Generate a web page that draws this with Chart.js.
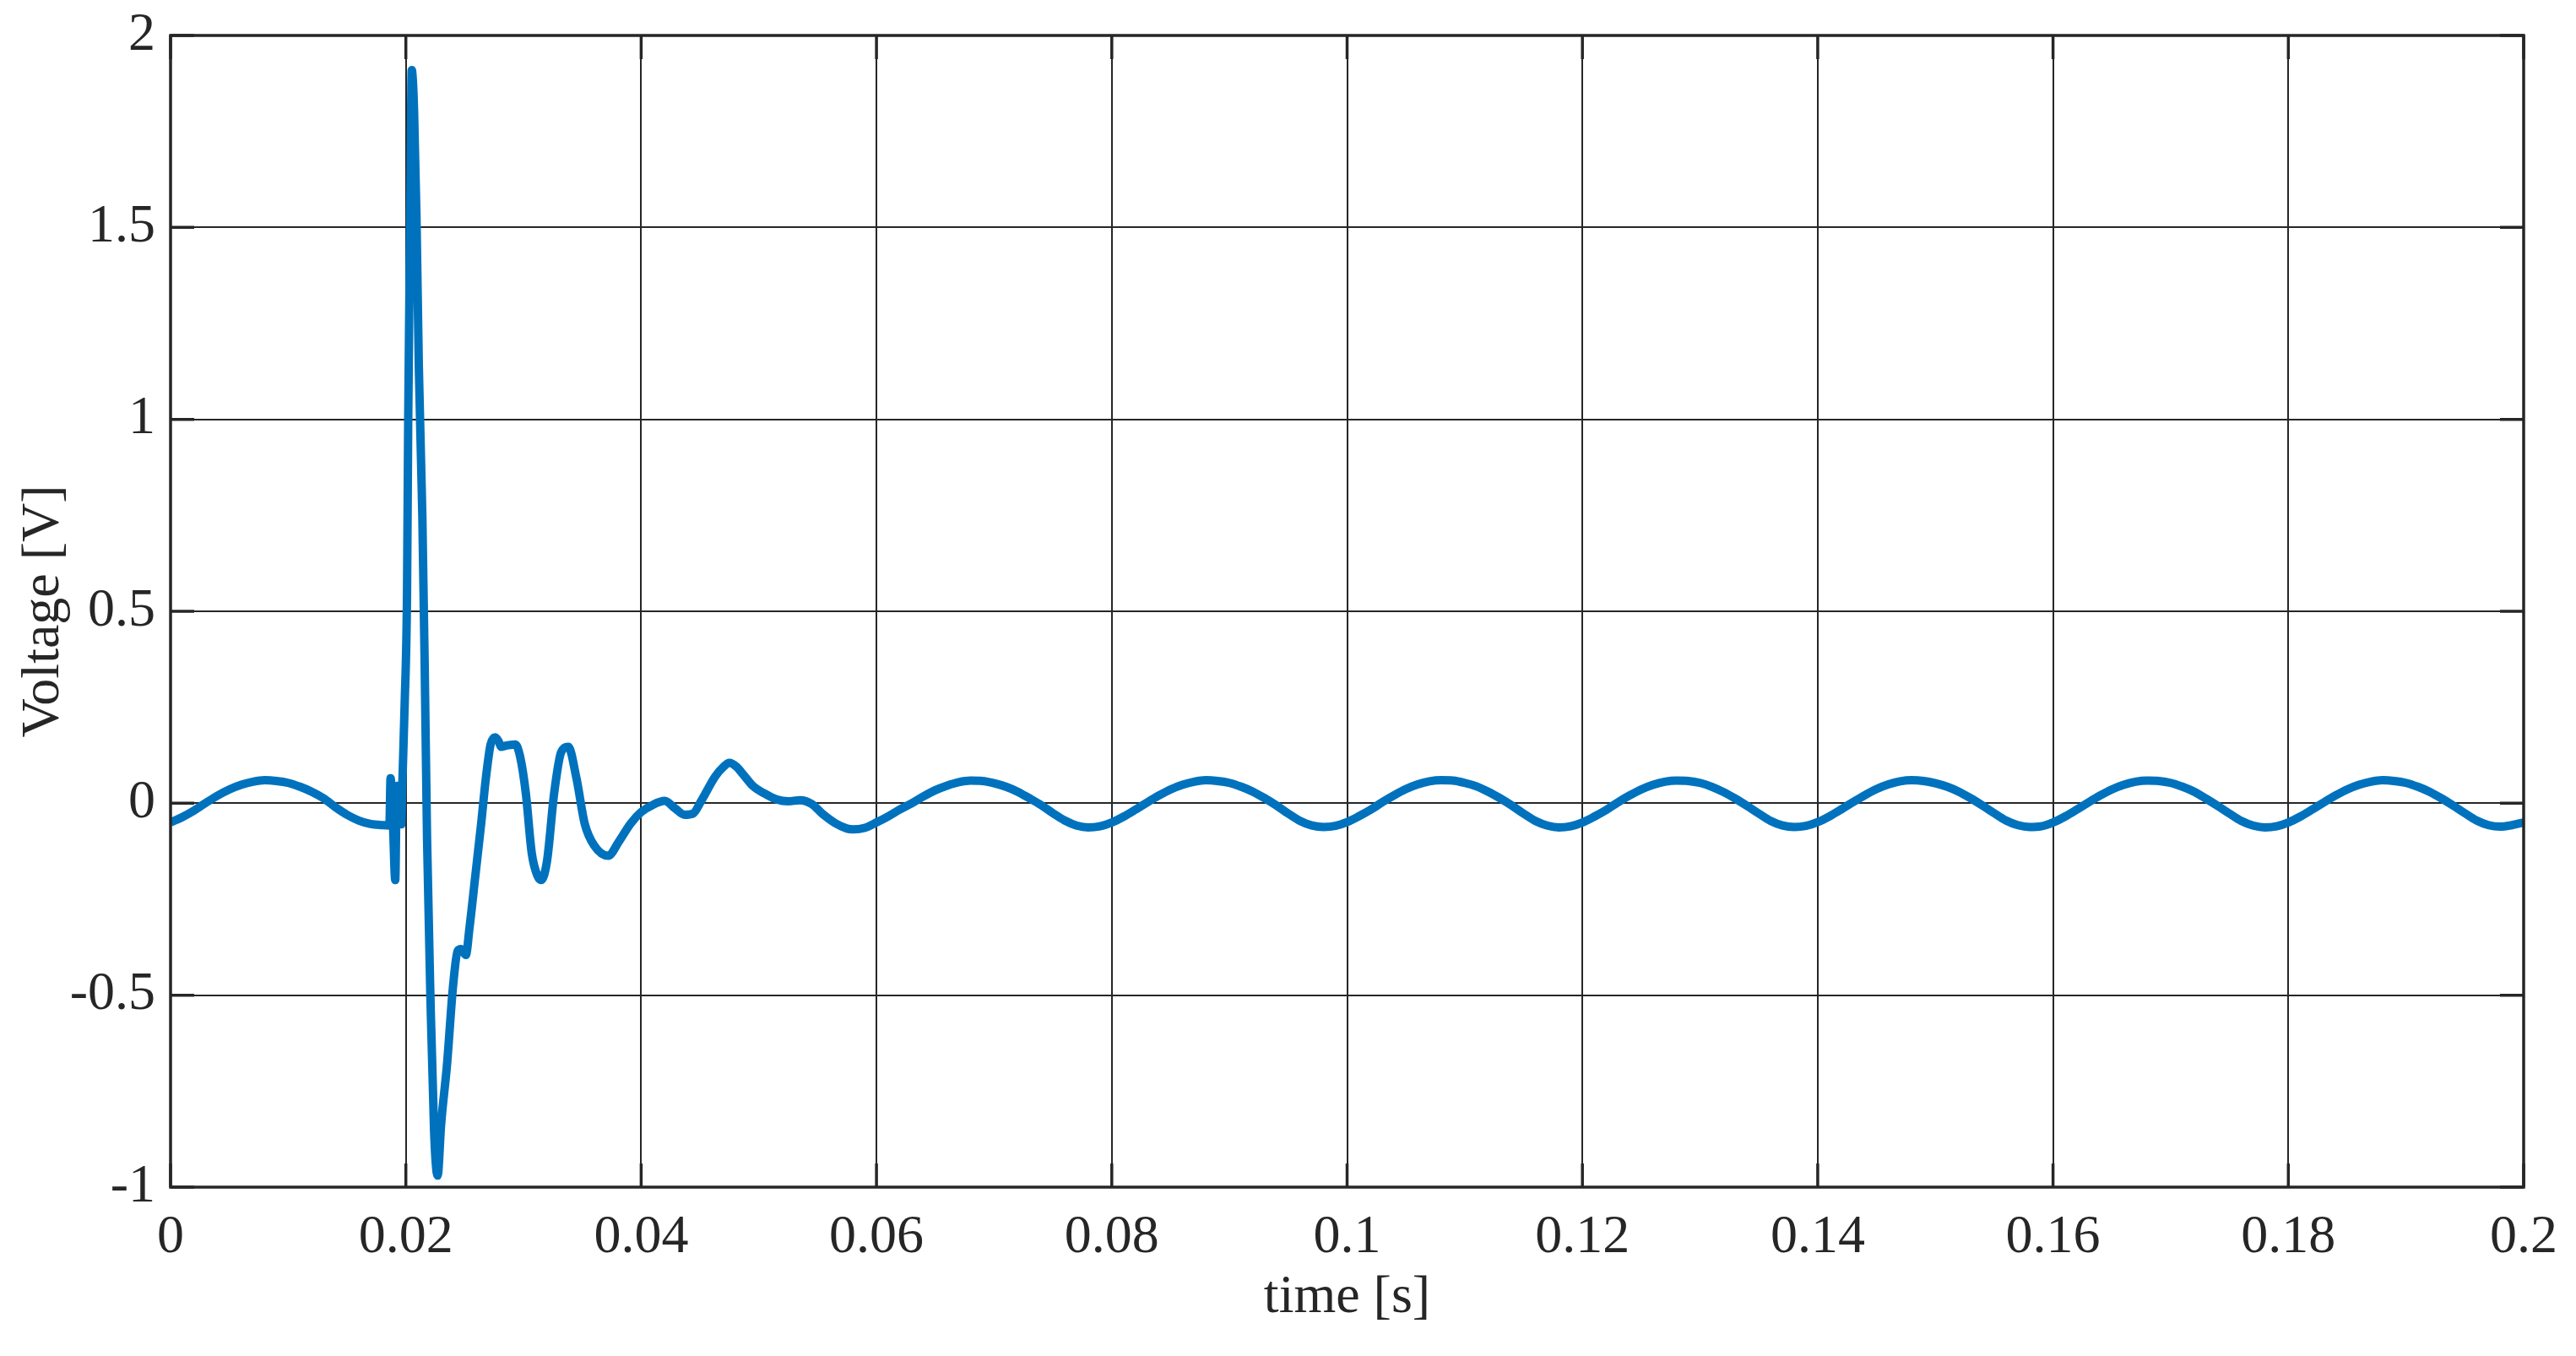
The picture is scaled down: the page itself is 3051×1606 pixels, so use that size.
<!DOCTYPE html>
<html>
<head>
<meta charset="utf-8">
<script src="https://cdn.jsdelivr.net/npm/chart.js@4.4.1/dist/chart.umd.min.js"></script>
<style>
  html, body { margin: 0; padding: 0; background: #fff; }
  #wrap { width: 3051px; height: 1606px; }
</style>
</head>
<body>
<div id="wrap"><canvas id="c"></canvas></div>
<script>
// ticks
const xTickValues = [0, 0.02, 0.04, 0.06, 0.08, 0.1, 0.12, 0.14, 0.16, 0.18, 0.2]
const xTickLabels = ['0', '0.02', '0.04', '0.06', '0.08', '0.1', '0.12', '0.14', '0.16', '0.18', '0.2']
const yTickValues = [-1, -0.5, 0, 0.5, 1, 1.5, 2]
const yTickLabels = ['-1', '-0.5', '0', '0.5', '1', '1.5', '2']

// before the fault, read every 1 ms
const preFaultT = [0, 0.001, 0.002, 0.003, 0.004, 0.005, 0.006, 0.007, 0.008, 0.009, 0.010,
  0.011, 0.012, 0.013, 0.014, 0.015, 0.016, 0.017, 0.018, 0.0186]
const preFaultV = [-0.050, -0.036, -0.019, 0.001, 0.020, 0.036, 0.048, 0.056, 0.060, 0.058, 0.053,
  0.043, 0.030, 0.013, -0.010, -0.030, -0.045, -0.054, -0.057, -0.058]

// fault transient, read at uneven steps
const faultT = [0.0187, 0.0189, 0.0191, 0.0192, 0.0193, 0.0195, 0.0196, 0.0197, 0.0199, 0.0201,
  0.0202, 0.0204, 0.0205, 0.0206, 0.0207, 0.0209, 0.0211, 0.0214, 0.0216, 0.0218,
  0.0221, 0.0224, 0.0227, 0.0230, 0.0235, 0.0240, 0.0244, 0.0247, 0.0251, 0.0254,
  0.0259, 0.0264, 0.0268, 0.0272, 0.0276, 0.0279, 0.0281, 0.0285, 0.0289, 0.0293,
  0.0297, 0.0302, 0.0307, 0.0312, 0.0315, 0.0320, 0.0326, 0.0332, 0.0338, 0.0345,
  0.0352, 0.0360, 0.0372, 0.0381, 0.0391, 0.0400, 0.0410, 0.0420, 0.0429, 0.0437,
  0.0444, 0.0451, 0.0463, 0.0470, 0.0475, 0.0481, 0.0487, 0.0495, 0.0505, 0.0515,
  0.0525, 0.0535, 0.0545, 0.0555, 0.0565, 0.0575]
const faultV = [0.065, -0.050, -0.200, 0.000, 0.045, -0.050, -0.055, 0.050, 0.260, 0.550,
  1.000, 1.630, 1.910, 1.880, 1.800, 1.530, 1.140, 0.750, 0.360, -0.090,
  -0.520, -0.855, -0.970, -0.835, -0.680, -0.480, -0.385, -0.380, -0.395, -0.327,
  -0.190, -0.053, 0.065, 0.153, 0.172, 0.160, 0.147, 0.150, 0.152, 0.153,
  0.123, 0.025, -0.130, -0.190, -0.200, -0.150, 0.025, 0.133, 0.147, 0.065,
  -0.053, -0.110, -0.137, -0.100, -0.053, -0.023, -0.004, 0.006, -0.014, -0.030,
  -0.027, 0.006, 0.070, 0.095, 0.105, 0.095, 0.074, 0.045, 0.025, 0.010,
  0.005, 0.008, -0.002, -0.030, -0.052, -0.066]

// steady state after the fault, read every 1 ms from 0.058 s
const steadyT0 = 0.058
const steadyStep = 0.001
const steadyV = [
  -0.068, -0.064, -0.050, -0.034, -0.016, 0.000, 0.018, 0.034, 0.046, 0.055,
  0.059, 0.058, 0.052, 0.043, 0.030, 0.013, -0.005, -0.026, -0.045, -0.058,
  -0.063, -0.060, -0.050, -0.035, -0.017, 0.002, 0.020, 0.036, 0.048, 0.056,
  0.060, 0.058, 0.053, 0.043, 0.030, 0.013, -0.006, -0.027, -0.046, -0.058,
  -0.062, -0.059, -0.049, -0.034, -0.017, 0.003, 0.021, 0.037, 0.049, 0.057,
  0.060, 0.059, 0.053, 0.044, 0.030, 0.013, -0.006, -0.027, -0.046, -0.058,
  -0.063, -0.060, -0.050, -0.035, -0.018, 0.002, 0.020, 0.036, 0.048, 0.056,
  0.059, 0.058, 0.053, 0.043, 0.029, 0.012, -0.007, -0.027, -0.046, -0.058,
  -0.062, -0.059, -0.049, -0.034, -0.016, 0.003, 0.021, 0.037, 0.049, 0.057,
  0.060, 0.058, 0.052, 0.043, 0.030, 0.013, -0.006, -0.026, -0.045, -0.057,
  -0.062, -0.060, -0.050, -0.035, -0.017, 0.002, 0.020, 0.036, 0.048, 0.056,
  0.059, 0.058, 0.053, 0.043, 0.030, 0.012, -0.007, -0.027, -0.046, -0.058,
  -0.063, -0.060, -0.050, -0.035, -0.017, 0.002, 0.020, 0.036, 0.048, 0.056,
  0.060, 0.058, 0.053, 0.043, 0.030, 0.013, -0.006, -0.026, -0.045, -0.057,
  -0.061, -0.057, -0.050
]

const points = []
preFaultT.forEach((t, i) => points.push({ x: t, y: preFaultV[i] }))
faultT.forEach((t, i) => points.push({ x: t, y: faultV[i] }))
steadyV.forEach((v, i) => points.push({ x: +(steadyT0 + i * steadyStep).toFixed(4), y: v }))

const ink = '#262626'
const font = { family: 'Liberation Serif', size: 64 }

// box round the plot with inward ticks, like the original
const framePlugin = {
  id: 'frame',
  afterDatasetsDraw (chart) {
    const { ctx, chartArea: a, scales } = chart
    const len = 28
    ctx.save()
    ctx.strokeStyle = ink
    ctx.lineWidth = 3.5
    ctx.beginPath()
    for (const v of xTickValues) {
      const px = scales.x.getPixelForValue(v)
      ctx.moveTo(px, a.bottom)
      ctx.lineTo(px, a.bottom - len)
      ctx.moveTo(px, a.top)
      ctx.lineTo(px, a.top + len)
    }
    for (const v of yTickValues) {
      const py = scales.y.getPixelForValue(v)
      ctx.moveTo(a.left, py)
      ctx.lineTo(a.left + len, py)
      ctx.moveTo(a.right, py)
      ctx.lineTo(a.right - len, py)
    }
    ctx.stroke()
    ctx.strokeRect(a.left, a.top, a.right - a.left, a.bottom - a.top)
    ctx.restore()
  }
}

new Chart(document.getElementById('c'), {
  type: 'line',
  data: {
    datasets: [{
      data: points,
      borderColor: '#0072BD',
      borderWidth: 10,
      pointRadius: 0,
      cubicInterpolationMode: 'monotone',
      fill: false
    }]
  },
  options: {
    responsive: true,
    maintainAspectRatio: false,
    animation: false,
    devicePixelRatio: 1,
    layout: { padding: { top: 42, right: 62, bottom: 0, left: 0 } },
    plugins: { legend: { display: false }, tooltip: { enabled: false } },
    scales: {
      x: {
        type: 'linear',
        min: 0,
        max: 0.2,
        afterBuildTicks (scale) { scale.ticks = xTickValues.map(v => ({ value: v })) },
        afterFit (scale) {
          scale.height = 200
          scale.paddingLeft = 0
          scale.paddingRight = 0
        },
        ticks: {
          color: ink,
          font,
          padding: 22,
          maxRotation: 0,
          callback: (value, index) => xTickLabels[index]
        },
        grid: { color: ink, lineWidth: 2, drawTicks: false },
        border: { display: false },
        title: { display: true, text: 'time [s]', color: ink, font, padding: { top: 0, bottom: 30 } }
      },
      y: {
        type: 'linear',
        min: -1,
        max: 2,
        afterBuildTicks (scale) { scale.ticks = yTickValues.map(v => ({ value: v })) },
        afterFit (scale) {
          scale.width = 202
          scale.paddingTop = 0
          scale.paddingBottom = 0
        },
        ticks: {
          color: ink,
          font,
          padding: 18,
          callback: (value, index) => yTickLabels[index]
        },
        grid: { color: ink, lineWidth: 2, drawTicks: false },
        border: { display: false },
        title: { display: true, text: 'Voltage [V]', color: ink, font, padding: { top: 14, bottom: 0 } }
      }
    }
  },
  plugins: [framePlugin]
})
</script>
</body>
</html>
